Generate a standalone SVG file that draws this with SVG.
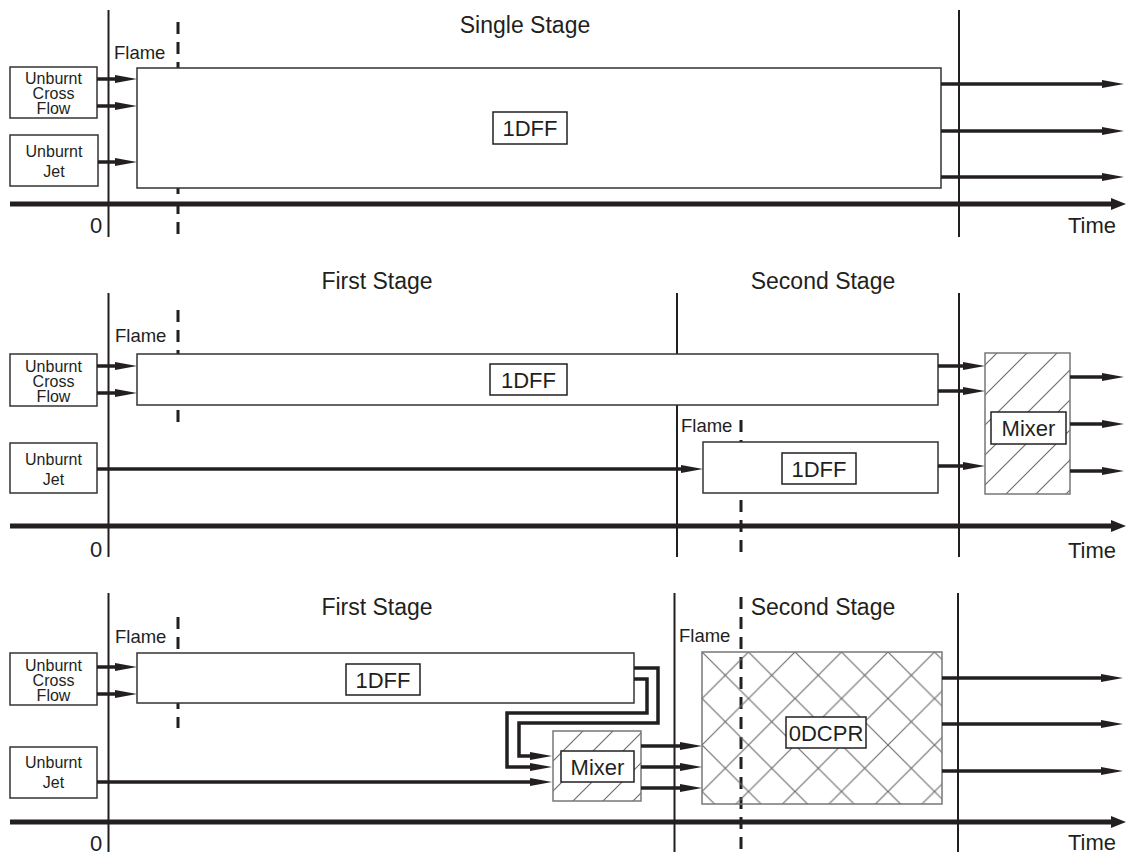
<svg xmlns="http://www.w3.org/2000/svg" width="1127" height="854" viewBox="0 0 1127 854">
<style>
text{font-family:"Liberation Sans",Arial,sans-serif;fill:#231f20}
.stage{font-size:23px;text-anchor:middle}
.flame{font-size:18.5px}
.lbl{font-size:22px;text-anchor:middle}
.small{font-size:16px;text-anchor:middle}
.axis-t{font-size:22px}
.vline{stroke:#231f20;stroke-width:2;fill:none}
.dash{stroke:#231f20;stroke-width:3;stroke-dasharray:12 8;fill:none}
.axis{stroke:#231f20;stroke-width:5;fill:none;marker-end:url(#axhead)}
.arr{stroke:#231f20;stroke-width:3.5;fill:none;marker-end:url(#head)}
.box{fill:#fff;stroke:#333;stroke-width:1.5}
.lbox{fill:#fff;stroke:#231f20;stroke-width:1.5}
.hbox{stroke:#777;stroke-width:1.5}
</style>
<defs>
<marker id="head" markerUnits="userSpaceOnUse" markerWidth="22" markerHeight="8" refX="10" refY="4" orient="auto" overflow="visible">
<path d="M0,0 L22,4 L0,8 Z" fill="#231f20"/>
</marker>
<marker id="axhead" markerUnits="userSpaceOnUse" markerWidth="15" markerHeight="12" refX="5" refY="6" orient="auto" overflow="visible">
<path d="M0,0 L15,6 L0,12 Z" fill="#231f20"/>
</marker>
<pattern id="hatch" patternUnits="userSpaceOnUse" width="30" height="30">
<path d="M0,30 L30,0 M-5,5 L5,-5 M25,35 L35,25" stroke="#6d6e70" stroke-width="1.2"/>
</pattern>
<pattern id="hatch3" patternUnits="userSpaceOnUse" x="553" y="731" width="30" height="30">
<path d="M0,30 L30,0 M-5,5 L5,-5 M25,35 L35,25" stroke="#6d6e70" stroke-width="1.2"/>
</pattern>
<pattern id="cross" patternUnits="userSpaceOnUse" x="702" y="652" width="46.5" height="46.5">
<path d="M0,0 L46.5,46.5 M46.5,0 L0,46.5" stroke="#6d6e70" stroke-width="1.2"/>
</pattern>
</defs>

<!-- ===== Panel 1 ===== -->
<g id="p1-frame">
<line class="vline" x1="108.5" y1="10" x2="108.5" y2="237"/>
<line class="vline" x1="959" y1="10" x2="959" y2="237"/>
<line class="dash" x1="178" y1="22" x2="178" y2="237"/>
<text class="stage" x="525" y="33">Single Stage</text>
<text class="flame" x="114" y="59">Flame</text>
<text class="axis-t" x="90" y="233">0</text>
<text class="axis-t" x="1116" y="233" text-anchor="end">Time</text>
</g>
<g id="p1-crossflow">
<rect class="box" x="10" y="67" width="87" height="51"/>
<text class="small" x="53.5" y="84">Unburnt</text>
<text class="small" x="53.5" y="99">Cross</text>
<text class="small" x="53.5" y="114">Flow</text>
</g>
<g id="p1-jet">
<rect class="box" x="10" y="135" width="88" height="51"/>
<text class="small" x="54" y="157">Unburnt</text>
<text class="small" x="54" y="177">Jet</text>
</g>
<g id="p1-1dff">
<rect class="box" x="137" y="68" width="804" height="120"/>
<rect class="lbox" x="493" y="112" width="74" height="32"/>
<text class="lbl" x="530" y="136">1DFF</text>
</g>
<g id="p1-connectors">
<line class="axis" x1="10" y1="204" x2="1116" y2="204"/>
<line class="arr" x1="97" y1="79" x2="125" y2="79"/>
<line class="arr" x1="97" y1="106" x2="125" y2="106"/>
<line class="arr" x1="98" y1="162" x2="125" y2="162"/>
<line class="arr" x1="941" y1="84" x2="1112" y2="84"/>
<line class="arr" x1="941" y1="131" x2="1112" y2="131"/>
<line class="arr" x1="941" y1="177" x2="1112" y2="177"/>
</g>

<!-- ===== Panel 2 ===== -->
<g id="p2-frame">
<line class="vline" x1="108.5" y1="293" x2="108.5" y2="557"/>
<line class="vline" x1="677" y1="293" x2="677" y2="557"/>
<line class="vline" x1="959" y1="293" x2="959" y2="557"/>
<line class="dash" x1="178" y1="310" x2="178" y2="423"/>
<line class="dash" x1="741" y1="420" x2="741" y2="557"/>
<text class="stage" x="377" y="289">First Stage</text>
<text class="stage" x="823" y="289">Second Stage</text>
<text class="flame" x="115" y="342">Flame</text>
<text class="flame" x="681" y="432">Flame</text>
<text class="axis-t" x="90" y="557">0</text>
<text class="axis-t" x="1116" y="558" text-anchor="end">Time</text>
</g>
<g id="p2-crossflow">
<rect class="box" x="10" y="354" width="87" height="52"/>
<text class="small" x="53.5" y="372">Unburnt</text>
<text class="small" x="53.5" y="387">Cross</text>
<text class="small" x="53.5" y="402">Flow</text>
</g>
<g id="p2-jet">
<rect class="box" x="10" y="443" width="87" height="50"/>
<text class="small" x="53.5" y="465">Unburnt</text>
<text class="small" x="53.5" y="485">Jet</text>
</g>
<g id="p2-1dff-a">
<rect class="box" x="137" y="354" width="801" height="51"/>
<rect class="lbox" x="490" y="364" width="77" height="31"/>
<text class="lbl" x="528.5" y="388">1DFF</text>
</g>
<g id="p2-1dff-b">
<rect class="box" x="703" y="442" width="235" height="51"/>
<rect class="lbox" x="782" y="453" width="74" height="31"/>
<text class="lbl" x="819" y="477">1DFF</text>
</g>
<g id="p2-mixer">
<rect class="hbox" x="985" y="353" width="85" height="141" fill="url(#hatch)"/>
<rect class="lbox" x="991" y="412" width="75" height="32"/>
<text class="lbl" x="1028.5" y="436">Mixer</text>
</g>
<g id="p2-connectors">
<line class="axis" x1="10" y1="526" x2="1116" y2="526"/>
<line class="arr" x1="97" y1="366" x2="125" y2="366"/>
<line class="arr" x1="97" y1="393" x2="125" y2="393"/>
<line class="arr" x1="97" y1="469" x2="691" y2="469"/>
<line class="arr" x1="938" y1="366" x2="973" y2="366"/>
<line class="arr" x1="938" y1="391" x2="973" y2="391"/>
<line class="arr" x1="938" y1="466" x2="973" y2="466"/>
<line class="arr" x1="1070" y1="377" x2="1112" y2="377"/>
<line class="arr" x1="1070" y1="424" x2="1112" y2="424"/>
<line class="arr" x1="1070" y1="471" x2="1112" y2="471"/>
</g>

<!-- ===== Panel 3 ===== -->
<g id="p3-frame">
<line class="vline" x1="108.5" y1="593" x2="108.5" y2="852"/>
<line class="vline" x1="674.5" y1="593" x2="674.5" y2="852"/>
<line class="vline" x1="958" y1="593" x2="958" y2="852"/>
<line class="dash" x1="178" y1="617" x2="178" y2="728"/>
<line class="dash" x1="741" y1="597" x2="741" y2="854"/>
<text class="stage" x="377" y="615">First Stage</text>
<text class="stage" x="823" y="615">Second Stage</text>
<text class="flame" x="115" y="643">Flame</text>
<text class="flame" x="679" y="642">Flame</text>
<text class="axis-t" x="90" y="851">0</text>
<text class="axis-t" x="1116" y="850" text-anchor="end">Time</text>
</g>
<g id="p3-crossflow">
<rect class="box" x="10" y="653" width="87" height="52"/>
<text class="small" x="53.5" y="671">Unburnt</text>
<text class="small" x="53.5" y="686">Cross</text>
<text class="small" x="53.5" y="701">Flow</text>
</g>
<g id="p3-jet">
<rect class="box" x="10" y="747" width="87" height="51"/>
<text class="small" x="53.5" y="768">Unburnt</text>
<text class="small" x="53.5" y="788">Jet</text>
</g>
<g id="p3-1dff">
<rect class="box" x="137" y="653" width="497" height="50"/>
<rect class="lbox" x="346" y="664" width="74" height="31"/>
<text class="lbl" x="383" y="688">1DFF</text>
</g>
<g id="p3-mixer">
<rect class="hbox" x="553" y="731" width="88" height="70" fill="url(#hatch3)"/>
<rect class="lbox" x="561" y="751" width="73" height="31"/>
<text class="lbl" x="597.5" y="775">Mixer</text>
</g>
<g id="p3-0dcpr">
<rect class="hbox" x="702" y="652" width="240" height="152" fill="url(#cross)"/>
<rect class="lbox" x="786" y="717" width="80" height="31"/>
<text class="lbl" x="826" y="741">0DCPR</text>
</g>
<g id="p3-connectors">
<line class="axis" x1="10" y1="822" x2="1116" y2="822"/>
<line class="arr" x1="97" y1="667" x2="125" y2="667"/>
<line class="arr" x1="97" y1="694" x2="125" y2="694"/>
<line class="arr" x1="97" y1="782" x2="540" y2="782"/>
<path class="arr" d="M634,668 H658 V723 H519 V756 H540"/>
<path class="arr" d="M634,679 H647 V713 H507 V767 H540"/>
<line class="arr" x1="641" y1="746" x2="690" y2="746"/>
<line class="arr" x1="641" y1="767" x2="690" y2="767"/>
<line class="arr" x1="641" y1="788" x2="690" y2="788"/>
<line class="arr" x1="942" y1="678" x2="1111" y2="678"/>
<line class="arr" x1="942" y1="724" x2="1111" y2="724"/>
<line class="arr" x1="942" y1="771" x2="1111" y2="771"/>
</g>
</svg>
